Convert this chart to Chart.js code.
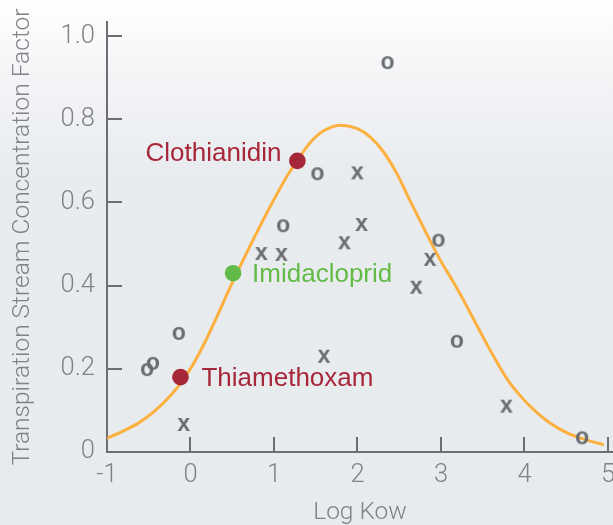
<!DOCTYPE html>
<html lang="en">
<head>
    <meta charset="UTF-8">
    <title>Transpiration Stream Concentration Factor vs Log Kow</title>
    <script src="https://cdn.jsdelivr.net/npm/chart.js"></script>
    <style>
        html, body { margin: 0; padding: 0; overflow: hidden; }
        body {
            width: 613px;
            height: 525px;
            background: linear-gradient(to bottom, #ffffff 0px, #f4f5f7 70px, #e9ecef 170px, #e8ebee 525px);
        }
        canvas { display: block; }
    </style>
</head>
<body>
    <canvas id="tscfChart" width="613" height="525"></canvas>
    <script>
        // axis ticks
        const xTicks = [-1, 0, 1, 2, 3, 4, 5];
        const yTicks = [0, 0.2, 0.4, 0.6, 0.8, 1.0];

        // measured compounds, "o" markers
        const circleX = [2.36, 1.52, 1.11, 2.97, -0.14, -0.52, -0.45, 3.19, 4.69];
        const circleY = [0.935, 0.668, 0.543, 0.508, 0.284, 0.197, 0.212, 0.265, 0.033];

        // measured compounds, "x" markers
        const crossX = [2.00, 2.05, 1.845, 0.85, 1.09, 2.87, 2.705, 1.60, 3.785, -0.08];
        const crossY = [0.670, 0.546, 0.502, 0.476, 0.474, 0.462, 0.395, 0.229, 0.109, 0.065];

        // neonicotinoids
        const compounds = ['Clothianidin', 'Imidacloprid', 'Thiamethoxam'];
        const compoundX = [1.28, 0.51, -0.12];
        const compoundY = [0.70, 0.43, 0.18];
        const compoundColors = ['#a7273a', '#62bb46', '#a7273a'];

        // fitted curve
        const curveX = [-1, -0.82, -0.62, -0.42, -0.22, -0.12, 0.02, 0.18, 0.32, 0.48, 0.69, 0.87, 1.04, 1.17, 1.28, 1.35,
                        1.47, 1.59, 1.79, 1.99, 2.15, 2.31, 2.47, 2.62, 2.84, 2.99, 3.15, 3.31, 3.47, 3.63, 3.79, 3.95,
                        4.11, 4.31, 4.51, 4.71, 4.95];
        const curveY = [0.033, 0.049, 0.070, 0.100, 0.140, 0.165, 0.207, 0.267, 0.327, 0.398, 0.486, 0.558, 0.622, 0.668, 0.700, 0.722,
                        0.752, 0.772, 0.786, 0.778, 0.758, 0.722, 0.670, 0.608, 0.520, 0.462, 0.408, 0.350, 0.289, 0.230, 0.176, 0.135,
                        0.102, 0.069, 0.046, 0.031, 0.017];

        const axisGray = '#6d6e71';
        const labelGray = '#808285';
        const markGray = '#696c70';

        // small canvas with a letter glyph, used as point style
        function glyph(ch) {
            const c = document.createElement('canvas');
            c.width = 24;
            c.height = 24;
            const g = c.getContext('2d');
            g.fillStyle = markGray;
            g.font = 'bold 23px "Liberation Sans"';
            g.textAlign = 'center';
            g.textBaseline = 'alphabetic';
            g.fillText(ch, 12, 18);
            return c;
        }

        const pts = (xs, ys) => xs.map((x, i) => ({ x: x, y: ys[i] }));

        // compound names next to the coloured dots
        const compoundLabels = {
            id: 'compoundLabels',
            afterDatasetsDraw(chart) {
                const ctx = chart.ctx;
                const xs = chart.scales.x, ys = chart.scales.y;
                const offsets = [[-16, 0, 'right'], [19, 9, 'left'], [21, 9, 'left']];
                ctx.save();
                ctx.font = '26px "Liberation Sans"';
                ctx.textBaseline = 'alphabetic';
                compounds.forEach((name, i) => {
                    const px = xs.getPixelForValue(compoundX[i]);
                    const py = ys.getPixelForValue(compoundY[i]);
                    ctx.fillStyle = compoundColors[i];
                    ctx.textAlign = offsets[i][2];
                    ctx.fillText(name, px + offsets[i][0], py + offsets[i][1]);
                });
                ctx.restore();
            }
        };

        new Chart(document.getElementById('tscfChart'), {
            type: 'scatter',
            data: {
                datasets: [
                    {
                        label: 'compounds',
                        data: pts(compoundX, compoundY),
                        pointRadius: 8.3,
                        pointBackgroundColor: compoundColors,
                        pointBorderWidth: 0,
                        order: 1
                    },
                    {
                        label: 'o',
                        data: pts(circleX, circleY),
                        pointStyle: glyph('o'),
                        order: 2
                    },
                    {
                        label: 'x',
                        data: pts(crossX, crossY),
                        pointStyle: glyph('x'),
                        order: 2
                    },
                    {
                        type: 'line',
                        label: 'fit',
                        data: pts(curveX, curveY),
                        borderColor: '#fbb03f',
                        borderWidth: 3,
                        pointRadius: 0,
                        fill: false,
                        cubicInterpolationMode: 'monotone',
                        order: 3
                    }
                ]
            },
            options: {
                responsive: false,
                animation: false,
                events: [],
                layout: { autoPadding: false, padding: { top: 22, left: 0, right: 0, bottom: 0 } },
                plugins: {
                    legend: { display: false },
                    tooltip: { enabled: false }
                },
                scales: {
                    x: {
                        type: 'linear',
                        min: -1,
                        max: 5.06,
                        afterBuildTicks: (s) => { s.ticks = xTicks.map(v => ({ value: v })); },
                        afterFit: (s) => { s.height = 73; s.paddingLeft = 0; s.paddingRight = 0; },
                        border: { color: axisGray, width: 2 },
                        grid: { drawOnChartArea: false, drawTicks: true, tickLength: -15, color: axisGray, lineWidth: 2 },
                        ticks: {
                            padding: 23,
                            color: labelGray,
                            font: { family: 'Roboto', weight: 300, size: 25.5 },
                            callback: (v) => String(v)
                        },
                        title: {
                            display: true,
                            text: 'Log Kow',
                            color: labelGray,
                            font: { family: 'Roboto', weight: 300, size: 24.5, lineHeight: 1 },
                            padding: { top: 0, bottom: 0 }
                        }
                    },
                    y: {
                        type: 'linear',
                        min: 0,
                        max: 1.034,
                        afterBuildTicks: (s) => { s.ticks = yTicks.map(v => ({ value: v })); },
                        afterFit: (s) => { s.width = 107; s.paddingTop = 0; s.paddingBottom = 0; },
                        border: { color: axisGray, width: 2 },
                        grid: { drawOnChartArea: false, drawTicks: true, tickLength: -15, color: axisGray, lineWidth: 2 },
                        ticks: {
                            padding: 27,
                            color: labelGray,
                            font: { family: 'Roboto', weight: 300, size: 25.5 },
                            callback: (v) => v === 0 ? '0' : v.toFixed(1)
                        },
                        title: {
                            display: true,
                            text: 'Transpiration Stream Concentration Factor',
                            color: labelGray,
                            font: { family: 'Roboto', weight: 300, size: 24.5, lineHeight: 1 },
                            padding: { top: 11, bottom: 0 }
                        }
                    }
                }
            },
            plugins: [compoundLabels]
        });
    </script>
</body>
</html>
